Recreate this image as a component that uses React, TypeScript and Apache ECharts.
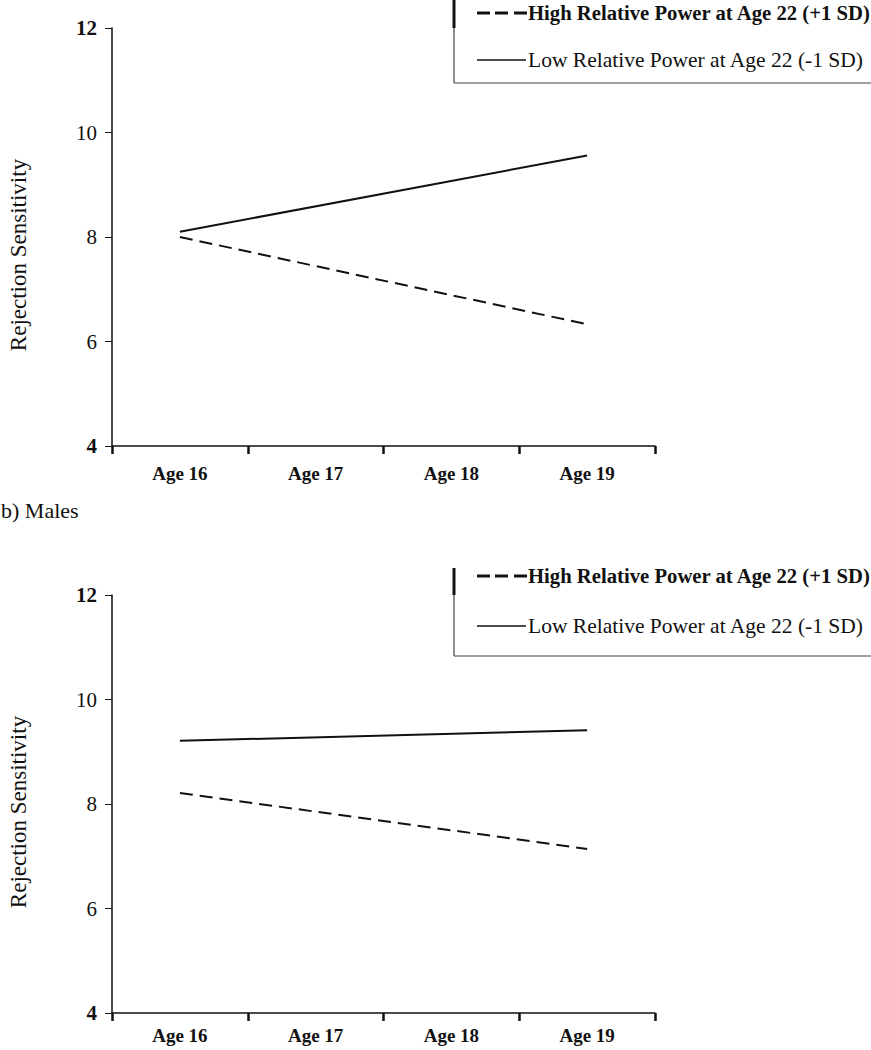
import React, { useEffect, useRef } from "react";
import * as echarts from "echarts";

const ages = ["Age 16", "Age 17", "Age 18", "Age 19"];
const yTicks = { min: 4, max: 12, interval: 2 };
const boldTicks = [4, 12];

// a) top panel
const topHigh = [8.0, null, null, 6.33];
const topLow = [8.1, null, null, 9.56];
// b) Males
const botHigh = [8.21, null, null, 7.14];
const botLow = [9.21, null, null, 9.41];

const highName = "High Relative Power at Age 22 (+1 SD)";
const lowName = "Low Relative Power at Age 22 (-1 SD)";
const yName = "Rejection Sensitivity";
const panelLabel = "b) Males";

const FONT = "'Times New Roman', 'Liberation Serif', serif";
const INK = "#111";

function makeLegend(y1: number, y2: number, thickTop: number, thickBot: number, boxBot: number) {
  const lx = 454;
  return [
    { type: "line", shape: { x1: lx, y1: thickTop, x2: lx, y2: thickBot }, style: { stroke: INK, lineWidth: 3 } },
    { type: "line", shape: { x1: lx, y1: thickBot, x2: lx, y2: boxBot }, style: { stroke: "#444", lineWidth: 1.2 } },
    { type: "line", shape: { x1: lx, y1: boxBot, x2: 871, y2: boxBot }, style: { stroke: "#444", lineWidth: 1.2 } },
    { type: "line", shape: { x1: 477, y1: y1, x2: 490, y2: y1 }, style: { stroke: INK, lineWidth: 3 } },
    { type: "line", shape: { x1: 495, y1: y1, x2: 508, y2: y1 }, style: { stroke: INK, lineWidth: 3 } },
    { type: "line", shape: { x1: 514, y1: y1, x2: 527, y2: y1 }, style: { stroke: INK, lineWidth: 3 } },
    {
      type: "text", x: 528, y: y1,
      style: { text: highName, fontFamily: FONT, fontSize: 20.7, fontWeight: "bold", fill: INK, textVerticalAlign: "middle", textAlign: "left" },
    },
    { type: "line", shape: { x1: 477, y1: y2, x2: 526, y2: y2 }, style: { stroke: INK, lineWidth: 1.5 } },
    {
      type: "text", x: 528, y: y2,
      style: { text: lowName, fontFamily: FONT, fontSize: 21.5, fill: INK, textVerticalAlign: "middle", textAlign: "left" },
    },
  ];
}

export default function App() {
  const ref = useRef<HTMLDivElement>(null);
  useEffect(() => {
    if (!ref.current) return;
    const chart = echarts.init(ref.current, null, { renderer: "svg" });
    const xAxisBase = (margin: number) => ({
      type: "category",
      data: ages,
      boundaryGap: true,
      axisLine: { lineStyle: { color: INK, width: 1.5 } },
      axisTick: { show: true, length: 8, lineStyle: { color: INK, width: 2.5 } },
      axisLabel: { fontFamily: FONT, fontSize: 19, fontWeight: "bold", color: INK, margin },
      splitLine: { show: false },
    });
    const yAxisBase = {
      type: "value",
      min: yTicks.min,
      max: yTicks.max,
      interval: yTicks.interval,
      axisLine: { show: true, lineStyle: { color: INK, width: 1.5 } },
      axisTick: { show: true, length: 7, lineStyle: { color: INK, width: 1 } },
      splitLine: { show: false },
      axisLabel: {
        margin: 15,
        formatter: (v: number) => (boldTicks.includes(v) ? `{b|${v}}` : `{n|${v}}`),
        rich: {
          b: { fontFamily: FONT, fontSize: 21, fontWeight: "bold", color: INK },
          n: { fontFamily: FONT, fontSize: 21, color: INK },
        },
      },
    };
    const lineSeries = (name: string, data: (number | null)[], idx: number, dashed: boolean) => ({
      type: "line",
      name,
      data,
      xAxisIndex: idx,
      yAxisIndex: idx,
      connectNulls: true,
      symbol: "none",
      lineStyle: { color: INK, width: 2, type: dashed ? [13, 7] : "solid" },
    });
    chart.setOption({
      animation: false,
      backgroundColor: "#fff",
      grid: [
        { left: 112, top: 28, width: 543, height: 418 },
        { left: 112, top: 595, width: 543, height: 418 },
      ],
      xAxis: [
        { ...xAxisBase(18), gridIndex: 0 },
        { ...xAxisBase(13), gridIndex: 1 },
      ],
      yAxis: [
        { ...yAxisBase, gridIndex: 0 },
        { ...yAxisBase, gridIndex: 1 },
      ],
      series: [
        lineSeries(highName, topHigh, 0, true),
        lineSeries(lowName, topLow, 0, false),
        lineSeries(highName, botHigh, 1, true),
        lineSeries(lowName, botLow, 1, false),
      ],
      graphic: [
        ...makeLegend(13, 60, 0, 28, 83),
        ...makeLegend(576, 626, 568, 595, 656),
        {
          type: "text", x: 18, y: 255, rotation: Math.PI / 2,
          style: { text: yName, fontFamily: FONT, fontSize: 23, fill: INK, textAlign: "center", textVerticalAlign: "middle" },
        },
        {
          type: "text", x: 18, y: 812, rotation: Math.PI / 2,
          style: { text: yName, fontFamily: FONT, fontSize: 23, fill: INK, textAlign: "center", textVerticalAlign: "middle" },
        },
        {
          type: "text", x: 1, y: 510,
          style: { text: panelLabel, fontFamily: FONT, fontSize: 22, fill: INK, textAlign: "left", textVerticalAlign: "middle" },
        },
      ],
    });
    return () => chart.dispose();
  }, []);
  return <div ref={ref} style={{ position: "absolute", left: 0, top: 0, width: 871, height: 1050 }} />;
}
